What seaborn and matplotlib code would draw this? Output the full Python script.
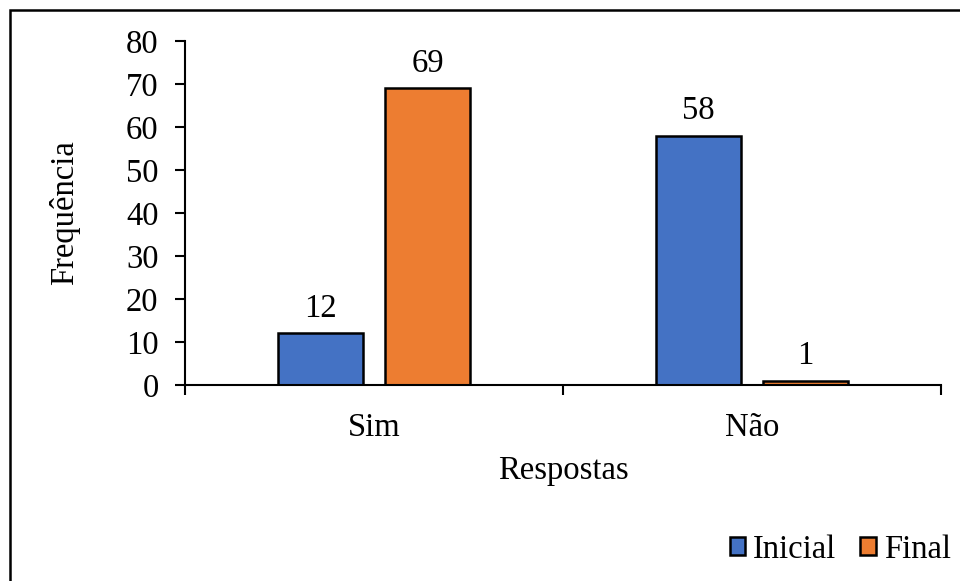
import matplotlib
matplotlib.use("Agg")
import matplotlib.pyplot as plt
from matplotlib.patches import Rectangle
import seaborn as sns
import pandas as pd

categories = ["Sim", "Não"]
series_names = ["Inicial", "Final"]
inicial = [12, 58]
final = [69, 1]
colors = ["#4472C4", "#ED7D31"]
y_ticks = [0, 10, 20, 30, 40, 50, 60, 70, 80]

df = pd.DataFrame({
    "Respostas": categories * 2,
    "Série": [series_names[0]] * len(categories) + [series_names[1]] * len(categories),
    "Frequência": inicial + final,
})

sns.set_theme(style="white")
plt.rcParams["font.family"] = ["Liberation Serif", "DejaVu Serif"]
plt.rcParams.update({"text.color": "black", "axes.labelcolor": "black",
                     "xtick.color": "black", "ytick.color": "black"})
fs = 23.5

fig = plt.figure(figsize=(9.6, 5.81), dpi=100)
ax = fig.add_axes([185 / 960, 1 - 385 / 581, (941 - 185) / 960, (385 - 41) / 581])

sns.barplot(data=df, x="Respostas", y="Frequência", hue="Série",
            hue_order=series_names, order=categories, palette=colors,
            width=0.568, gap=0.208, edgecolor="black", linewidth=1.8,
            saturation=1, ax=ax, legend=True)

for cont in ax.containers:
    ax.bar_label(cont, fmt="%d", padding=7, fontsize=fs, color="black")

ax.set_ylim(0, 80)
ax.set_yticks(y_ticks)
ax.set_xlim(-0.5, len(categories) - 0.5)
ax.tick_params(axis="y", labelsize=fs, length=7, width=1.5, direction="out",
               left=True, pad=12, color="black", labelcolor="black")
ax.tick_params(axis="x", labelsize=fs, length=0, pad=20, labelcolor="black")
# category boundary marks on the x axis
ax.set_xticks([-0.5, 0.5, 1.5], minor=True)
ax.tick_params(axis="x", which="minor", length=7, width=1.5, direction="out",
               bottom=True, color="black")

for side in ["top", "right"]:
    ax.spines[side].set_visible(False)
for side in ["left", "bottom"]:
    ax.spines[side].set_color("black")
    ax.spines[side].set_linewidth(1.5)

ax.set_xlabel("Respostas", fontsize=fs, labelpad=9, color="black")
ax.set_ylabel("Frequência", fontsize=fs, labelpad=33, color="black")

leg = ax.legend(loc="lower right", bbox_to_anchor=(964 / 960, 3 / 581),
                bbox_transform=fig.transFigure, ncol=2, frameon=False,
                fontsize=fs, handlelength=0.47, handleheight=0.47,
                handletextpad=0.25, columnspacing=0.73, borderaxespad=0,
                labelcolor="black")

fig.patches.append(Rectangle((10 / 960, -0.1), 1.2, 1.1 - 10 / 581,
                             transform=fig.transFigure, fill=False,
                             edgecolor="black", linewidth=1.8))

fig.savefig("out.png", dpi=100)
